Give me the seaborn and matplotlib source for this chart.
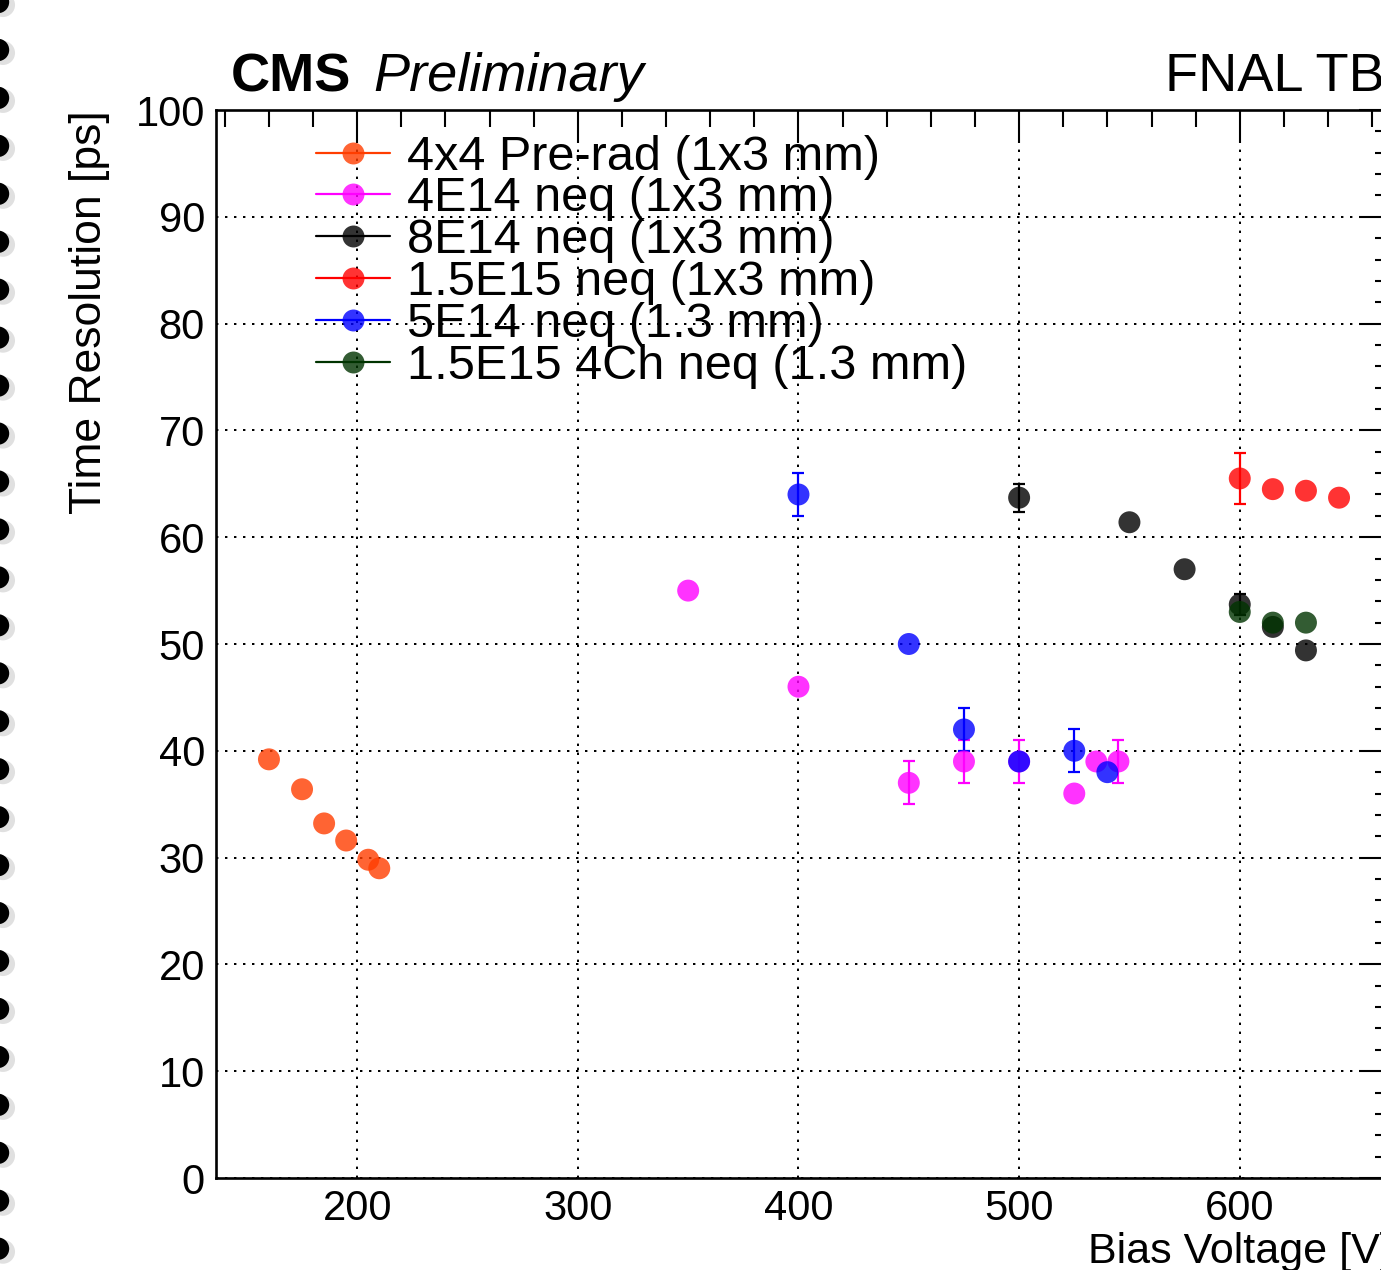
import numpy as np
import pandas as pd
import matplotlib
matplotlib.use("Agg")
import matplotlib.pyplot as plt
import seaborn as sns
from matplotlib.lines import Line2D
from matplotlib.colors import to_rgba
from matplotlib.ticker import MultipleLocator

# ---------------- data ----------------
labels = ["4x4 Pre-rad (1x3 mm)", "4E14 neq (1x3 mm)", "8E14 neq (1x3 mm)",
          "1.5E15 neq (1x3 mm)", "5E14 neq (1.3 mm)", "1.5E15 4Ch neq (1.3 mm)"]
colors = ["#ff3d00", "#ff00ff", "#000000", "#ff0000", "#0000ff", "#003300"]

prerad_v = [160, 175, 185, 195, 205, 210]
prerad_t = [39.2, 36.4, 33.2, 31.6, 29.8, 29.0]
prerad_e = [0.0, 0.0, 0.0, 0.0, 0.0, 0.0]

e4e14_v = [350, 400, 450, 475, 500, 525, 535, 545]
e4e14_t = [55.0, 46.0, 37.0, 39.0, 39.0, 36.0, 39.0, 39.0]
e4e14_e = [0.0, 0.0, 2.0, 2.0, 2.0, 0.0, 0.0, 2.0]

e8e14_v = [500, 550, 575, 600, 615, 630]
e8e14_t = [63.7, 61.4, 57.0, 53.7, 51.6, 49.4]
e8e14_e = [1.3, 0.0, 0.0, 1.0, 0.0, 0.0]

e15_v = [600, 615, 630, 645]
e15_t = [65.5, 64.5, 64.35, 63.7]
e15_e = [2.4, 0.0, 0.0, 0.0]

e5e14_v = [400, 450, 475, 500, 525, 540]
e5e14_t = [64.0, 50.0, 42.0, 39.0, 40.0, 38.0]
e5e14_e = [2.0, 0.0, 2.0, 0.0, 2.0, 0.0]

e15ch_v = [600, 615, 630]
e15ch_t = [53.0, 52.0, 52.0]
e15ch_e = [0.0, 0.0, 0.0]

series_v = [prerad_v, e4e14_v, e8e14_v, e15_v, e5e14_v, e15ch_v]
series_t = [prerad_t, e4e14_t, e8e14_t, e15_t, e5e14_t, e15ch_t]
series_e = [prerad_e, e4e14_e, e8e14_e, e15_e, e5e14_e, e15ch_e]

frames = []
for lab, v, t, e in zip(labels, series_v, series_t, series_e):
    frames.append(pd.DataFrame({"Bias": v, "Res": t, "Err": e, "Sensor": lab}))
df = pd.concat(frames, ignore_index=True)

# ---------------- figure ----------------
sns.set_theme(style="white")
plt.rcParams["font.family"] = ["Liberation Sans", "DejaVu Sans"]
plt.rcParams["text.color"] = "black"
plt.rcParams["axes.labelcolor"] = "black"
plt.rcParams["xtick.color"] = "black"
plt.rcParams["ytick.color"] = "black"

W, H = 1381, 1270
fig = plt.figure(figsize=(W / 100, H / 100), dpi=100)

# decorative binder dots along the left edge
bg = fig.add_axes([0, 0, 1, 1], zorder=-5)
bg.set_xlim(0, W)
bg.set_ylim(H, 0)
bg.axis("off")
dot_y = 2 + np.arange(27) * 47.95
bg.scatter(np.full_like(dot_y, 3.0), dot_y + 3, s=300, color="0.6", alpha=0.3, edgecolor="none")
bg.scatter(np.full_like(dot_y, -2.0), dot_y, s=260, color="black", edgecolor="none")

L, R, B, T = 216, 1392, 1178, 110
ax = fig.add_axes([L / W, 1 - B / H, (R - L) / W, (B - T) / H])
ax.set_facecolor("none")

palette = dict(zip(labels, colors))
for lab, v, t, e, c in zip(labels, series_v, series_t, series_e, colors):
    v = np.asarray(v); t = np.asarray(t); e = np.asarray(e)
    m = e > 0
    if m.any():
        ax.errorbar(v[m], t[m], yerr=e[m], fmt="none", ecolor=c, elinewidth=1.6,
                    capsize=4, capthick=1.6, zorder=3)

sns.scatterplot(data=df, x="Bias", y="Res", hue="Sensor", palette=palette,
                hue_order=labels, s=250, alpha=0.8, edgecolor="none",
                legend=False, ax=ax, zorder=4)

ax.set_xlim(136, 669)
ax.set_ylim(0, 100)
ax.xaxis.set_major_locator(MultipleLocator(100))
ax.xaxis.set_minor_locator(MultipleLocator(20))
ax.yaxis.set_major_locator(MultipleLocator(10))
ax.yaxis.set_minor_locator(MultipleLocator(2))
ax.tick_params(which="both", direction="in", top=True, right=True,
               width=1.5, colors="black", labelsize=30, pad=8)
ax.tick_params(which="major", length=24)
ax.tick_params(which="minor", length=12)
for sp in ax.spines.values():
    sp.set_linewidth(1.9)
    sp.set_color("black")

ax.grid(True, which="major", color="black", linestyle=(0, (1.2, 3.3)), linewidth=1.44)
ax.set_axisbelow(True)

ax.set_xlabel("Bias Voltage [V]", fontsize=31, loc="right")
ax.xaxis.set_label_coords(1.0, -0.051)
ax.set_ylabel("Time Resolution [ps]", fontsize=32, loc="top")
ax.yaxis.set_label_coords(-0.09, 1.0)

handles = [Line2D([0], [0], color=c, lw=1.6, marker="o", markersize=15.8,
                  markerfacecolor=to_rgba(c, 0.8), markeredgecolor="none")
           for c in colors]
ax.legend(handles, labels, loc="upper left", bbox_to_anchor=(0.085, 0.977),
          frameon=False, fontsize=35, handlelength=1.52, handletextpad=0.35,
          labelspacing=-0.065, borderpad=0, borderaxespad=0)

fig.text(231 / W, 1 - 91 / H, "CMS", fontsize=39, fontweight="bold", va="baseline")
fig.text(373 / W, 1 - 91 / H, "Preliminary", fontsize=39, fontstyle="italic", va="baseline")
fig.text(1165 / W, 1 - 91 / H, "FNAL TB", fontsize=39, va="baseline")

fig.savefig("out.png", dpi=100)
